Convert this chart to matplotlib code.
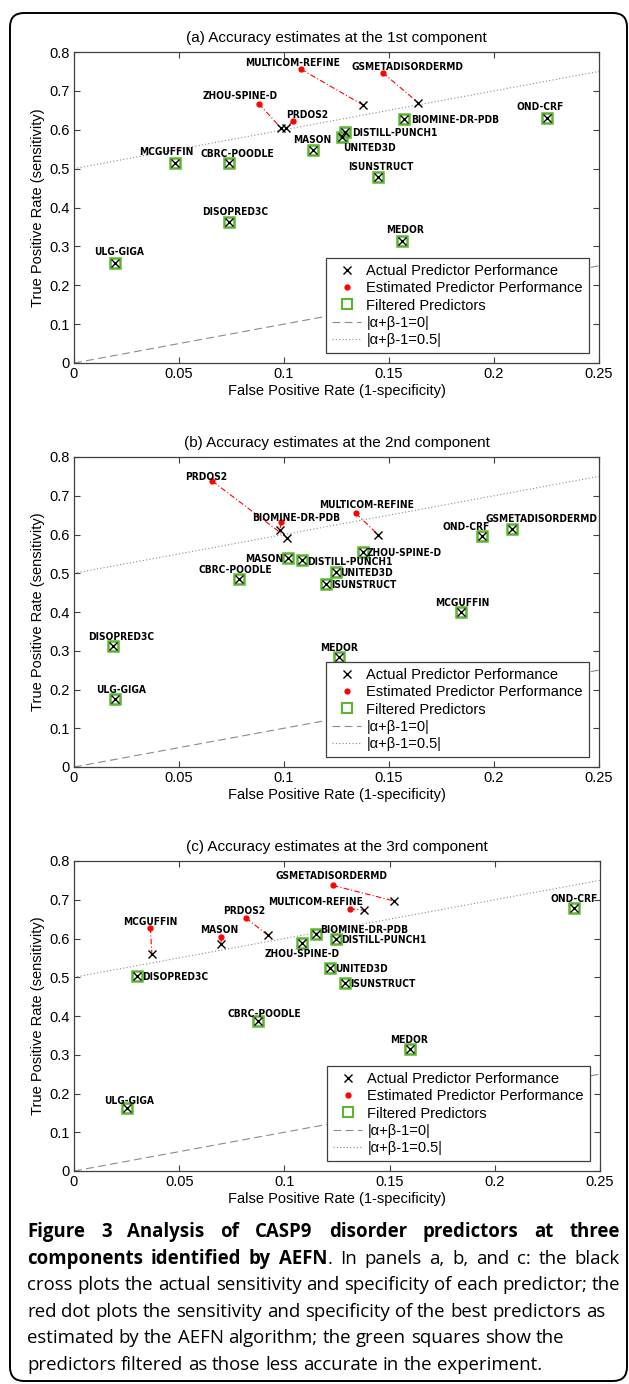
import matplotlib
matplotlib.use("Agg")
import matplotlib.pyplot as plt
import numpy as np
from matplotlib import font_manager
from matplotlib.lines import Line2D
from matplotlib.patches import FancyBboxPatch
from matplotlib.transforms import IdentityTransform

# ---------------- data ----------------
TITLES = [
    "(a) Accuracy estimates at the 1st component",
    "(b) Accuracy estimates at the 2nd component",
    "(c) Accuracy estimates at the 3rd component",
]
X_TICKS = [0, 0.05, 0.1, 0.15, 0.2, 0.25]
X_TICK_LABELS = ["0", "0.05", "0.1", "0.15", "0.2", "0.25"]
Y_TICKS = [0, 0.1, 0.2, 0.3, 0.4, 0.5, 0.6, 0.7, 0.8]
Y_TICK_LABELS = ["0", "0.1", "0.2", "0.3", "0.4", "0.5", "0.6", "0.7", "0.8"]
LEGEND_LABELS = ["Actual Predictor Performance", "Estimated Predictor Performance",
                 "Filtered Predictors", "|\u03b1+\u03b2-1=0|", "|\u03b1+\u03b2-1=0.5|"]

nan = np.nan

# panel (a)
NAMES_A = ["MULTICOM-REFINE", "GSMETADISORDERMD", "ZHOU-SPINE-D", "PRDOS2", "MASON",
           "DISTILL-PUNCH1", "UNITED3D", "BIOMINE-DR-PDB", "ISUNSTRUCT", "OND-CRF",
           "MEDOR", "MCGUFFIN", "CBRC-POODLE", "DISOPRED3C", "ULG-GIGA"]
ACT_FPR_A = [0.1375, 0.164, 0.0986, 0.101, 0.114, 0.129, 0.1276, 0.157, 0.1446, 0.225,
             0.156, 0.048, 0.074, 0.074, 0.0195]
ACT_TPR_A = [0.664, 0.669, 0.604, 0.604, 0.548, 0.593, 0.582, 0.628, 0.478, 0.629,
             0.314, 0.514, 0.514, 0.362, 0.256]
EST_FPR_A = [0.108, 0.147, 0.088, 0.1044, nan, nan, nan, nan, nan, nan, nan, nan, nan, nan, nan]
EST_TPR_A = [0.756, 0.747, 0.667, 0.623, nan, nan, nan, nan, nan, nan, nan, nan, nan, nan, nan]

# panel (b)
NAMES_B = ["PRDOS2", "BIOMINE-DR-PDB", "MULTICOM-REFINE", "MASON", "DISTILL-PUNCH1",
           "CBRC-POODLE", "DISOPRED3C", "ULG-GIGA", "ZHOU-SPINE-D", "UNITED3D",
           "ISUNSTRUCT", "MCGUFFIN", "OND-CRF", "GSMETADISORDERMD", "MEDOR"]
ACT_FPR_B = [0.1014, 0.098, 0.1447, 0.102, 0.1088, 0.0786, 0.0187, 0.0197, 0.1375, 0.1246,
             0.120, 0.1843, 0.1943, 0.2086, 0.126]
ACT_TPR_B = [0.592, 0.611, 0.600, 0.539, 0.533, 0.486, 0.311, 0.176, 0.555, 0.502,
             0.471, 0.400, 0.595, 0.614, 0.285]
EST_FPR_B = [0.0658, 0.0986, 0.1342, nan, nan, nan, nan, nan, nan, nan, nan, nan, nan, nan, nan]
EST_TPR_B = [0.738, 0.631, 0.655, nan, nan, nan, nan, nan, nan, nan, nan, nan, nan, nan, nan]

# panel (c)
NAMES_C = ["MCGUFFIN", "MASON", "PRDOS2", "GSMETADISORDERMD", "MULTICOM-REFINE",
           "DISOPRED3C", "CBRC-POODLE", "ULG-GIGA", "ZHOU-SPINE-D", "BIOMINE-DR-PDB",
           "DISTILL-PUNCH1", "UNITED3D", "ISUNSTRUCT", "OND-CRF", "MEDOR"]
ACT_FPR_C = [0.037, 0.070, 0.092, 0.152, 0.1376, 0.0298, 0.0875, 0.0252, 0.1084, 0.1148,
             0.1244, 0.1219, 0.1289, 0.2378, 0.1595]
ACT_TPR_C = [0.560, 0.586, 0.609, 0.697, 0.673, 0.504, 0.386, 0.162, 0.589, 0.612,
             0.599, 0.525, 0.486, 0.679, 0.314]
EST_FPR_C = [0.0363, 0.0698, 0.0817, 0.123, 0.131, nan, nan, nan, nan, nan, nan, nan, nan, nan, nan]
EST_TPR_C = [0.628, 0.604, 0.653, 0.737, 0.677, nan, nan, nan, nan, nan, nan, nan, nan, nan, nan]

CAPTION = [
    [("Figure 3 Analysis of CASP9 disorder predictors at three", "bold")],
    [("components identified by AEFN", "bold"), (". In panels a, b, and c: the black", "normal")],
    [("cross plots the actual sensitivity and specificity of each predictor; the", "normal")],
    [("red dot plots the sensitivity and specificity of the best predictors as", "normal")],
    [("estimated by the AEFN algorithm; the green squares show the", "normal")],
    [("predictors filtered as those less accurate in the experiment.", "normal")],
]

# ---------------- layout (pixels, from top-left) ----------------
W, H = 629, 1384
AX_BOXES = [(74, 52, 599, 363), (74, 457, 599, 767), (74, 861, 600, 1171)]

# label placement: name -> (dx px, dy px up, ha); anchored at the red dot if there is one
LABELS_A = {
    "MULTICOM-REFINE": (-8, 7, "center"), "GSMETADISORDERMD": (25, 7, "center"),
    "ZHOU-SPINE-D": (-19, 9, "center"), "PRDOS2": (14, 7, "center"),
    "MASON": (-1, 11, "center"), "DISTILL-PUNCH1": (7, 0, "left"),
    "UNITED3D": (1, -10, "left"), "BIOMINE-DR-PDB": (7, 0, "left"),
    "ISUNSTRUCT": (3, 11, "center"), "OND-CRF": (-6, 12, "center"),
    "MEDOR": (3, 12, "center"), "MCGUFFIN": (-8, 12, "center"),
    "CBRC-POODLE": (8, 10, "center"), "DISOPRED3C": (6, 11, "center"),
    "ULG-GIGA": (4, 12, "center"),
}
LABELS_B = {
    "PRDOS2": (-6, 5, "center"), "BIOMINE-DR-PDB": (15, 5, "center"),
    "MULTICOM-REFINE": (11, 9, "center"), "MASON": (-5, 0, "right"),
    "DISTILL-PUNCH1": (5, -1, "left"), "CBRC-POODLE": (-4, 10, "center"),
    "DISOPRED3C": (8, 10, "center"), "ULG-GIGA": (6, 10, "center"),
    "ZHOU-SPINE-D": (4, 0, "left"), "UNITED3D": (4, 0, "left"),
    "ISUNSTRUCT": (5, 0, "left"), "MCGUFFIN": (1, 10, "center"),
    "OND-CRF": (-16, 10, "center"), "GSMETADISORDERMD": (29, 11, "center"),
    "MEDOR": (0, 10, "center"),
}
LABELS_C = {
    "MCGUFFIN": (0, 7, "center"), "MASON": (-2, 8, "center"),
    "PRDOS2": (-2, 8, "center"), "GSMETADISORDERMD": (-1, 10, "center"),
    "MULTICOM-REFINE": (-34, 8, "center"), "DISOPRED3C": (5, 0, "left"),
    "CBRC-POODLE": (6, 8, "center"), "ULG-GIGA": (2, 8, "center"),
    "ZHOU-SPINE-D": (0, -10, "center"), "BIOMINE-DR-PDB": (5, 5, "left"),
    "DISTILL-PUNCH1": (5, 0, "left"), "UNITED3D": (5, 0, "left"),
    "ISUNSTRUCT": (5, 0, "left"), "OND-CRF": (0, 10, "center"),
    "MEDOR": (-1, 10, "center"),
}

GREEN = "#5cb531"
AXIS_GRAY = "#404040"
LINE_GRAY = "#8a8a8a"

plt.rcParams["font.family"] = ["Liberation Sans", "DejaVu Sans"]

avail = {f.name for f in font_manager.fontManager.ttflist}
if "Liberation Sans Narrow" in avail:
    LABEL_FONT = dict(family="Liberation Sans Narrow", fontweight="bold", fontsize=8.3)
else:
    LABEL_FONT = dict(family="DejaVu Sans", fontweight="bold", fontstretch="condensed", fontsize=7.3)


def draw_panel(ax, title, names, act_fpr, act_tpr, est_fpr, est_tpr, labels):
    act_fpr = np.asarray(act_fpr)
    act_tpr = np.asarray(act_tpr)
    est_fpr = np.asarray(est_fpr)
    est_tpr = np.asarray(est_tpr)
    has_est = ~np.isnan(est_fpr)

    # reference lines
    ax.plot(X_TICKS, np.asarray(X_TICKS), color=LINE_GRAY, lw=0.8, ls=(0, (7, 4)), zorder=1)
    ax.plot(X_TICKS, np.asarray(X_TICKS) + 0.5, color=LINE_GRAY, lw=0.8, ls=(0, (1, 2)), zorder=1)

    # estimated -> actual connectors
    for i in np.where(has_est)[0]:
        ax.plot([est_fpr[i], act_fpr[i]], [est_tpr[i], act_tpr[i]], color="red", lw=0.8,
                ls=(0, (5, 2, 1, 2)), zorder=2)

    filt = ~has_est
    ax.plot(act_fpr[filt], act_tpr[filt], ls="none", marker="s", ms=7, mfc="none",
            mec=GREEN, mew=1.8, zorder=3)
    ax.plot(est_fpr[has_est], est_tpr[has_est], ls="none", marker="o", ms=3.5,
            mfc="red", mec="red", zorder=4)
    ax.plot(act_fpr, act_tpr, ls="none", marker="x", ms=5.5, mew=1.0, color="black", zorder=5)

    for i, name in enumerate(names):
        dx, dy, ha = labels[name]
        if has_est[i]:
            xy = (est_fpr[i], est_tpr[i])
        else:
            xy = (act_fpr[i], act_tpr[i])
        ax.annotate(name, xy=xy, xytext=(dx, dy), textcoords="offset pixels",
                    ha=ha, va="center_baseline", zorder=6, **LABEL_FONT)

    ax.set_xlim(0, 0.25)
    ax.set_ylim(0, 0.8)
    ax.set_xticks(X_TICKS)
    ax.set_xticklabels(X_TICK_LABELS)
    ax.set_yticks(Y_TICKS)
    ax.set_yticklabels(Y_TICK_LABELS)
    ax.tick_params(direction="in", top=True, right=True, length=4, width=0.8,
                   color=AXIS_GRAY, labelsize=10.5, pad=3)
    for sp in ax.spines.values():
        sp.set_color(AXIS_GRAY)
        sp.set_linewidth(0.9)
    ax.set_title(title, fontsize=11, pad=7)
    ax.set_xlabel("False Positive Rate (1-specificity)", fontsize=10.5, labelpad=2)
    ax.set_ylabel("True Positive Rate (sensitivity)", fontsize=10.5, labelpad=3)

    handles = [
        Line2D([], [], ls="none", marker="x", ms=5.5, mew=1.0, color="black"),
        Line2D([], [], ls="none", marker="o", ms=3.5, mfc="red", mec="red"),
        Line2D([], [], ls="none", marker="s", ms=7, mfc="none", mec=GREEN, mew=1.5),
        Line2D([], [], color=LINE_GRAY, lw=0.8, ls=(0, (7, 4))),
        Line2D([], [], color=LINE_GRAY, lw=0.8, ls=(0, (1, 2))),
    ]
    leg = ax.legend(handles, LEGEND_LABELS, loc="lower right", fontsize=10.5,
                    frameon=True, fancybox=False, framealpha=1, edgecolor=AXIS_GRAY,
                    handlelength=2.0, handletextpad=0.35, labelspacing=0.22,
                    borderpad=0.4, borderaxespad=0.7)
    leg.get_frame().set_linewidth(0.9)
    leg.set_zorder(10)


fig = plt.figure(figsize=(W / 100, H / 100), dpi=100)
fig.patch.set_facecolor("white")

panels = [
    (NAMES_A, ACT_FPR_A, ACT_TPR_A, EST_FPR_A, EST_TPR_A, LABELS_A),
    (NAMES_B, ACT_FPR_B, ACT_TPR_B, EST_FPR_B, EST_TPR_B, LABELS_B),
    (NAMES_C, ACT_FPR_C, ACT_TPR_C, EST_FPR_C, EST_TPR_C, LABELS_C),
]
for (l, t, r, b), title, p in zip(AX_BOXES, TITLES, panels):
    ax = fig.add_axes([l / W, 1 - b / H, (r - l) / W, (b - t) / H])
    draw_panel(ax, title, *p)

# rounded frame around everything
frame = FancyBboxPatch((10, 3), 617, 1368, boxstyle="round,pad=0,rounding_size=14",
                       transform=IdentityTransform(), fill=False, lw=1.4, ec="black")
fig.add_artist(frame)

# ---------------- caption ----------------
renderer = fig.canvas.get_renderer()
CAP_FAMILY = ["Open Sans", "DejaVu Sans"]


def text_width(s, size, weight):
    t = fig.text(0, 0, s, fontsize=size, fontweight=weight, family=CAP_FAMILY)
    w = t.get_window_extent(renderer).width
    t.remove()
    return w


# fit the font size so that the third line spans its width in the original
probe = CAPTION[2][0][0]
cap_size = 12 * 590 / text_width(probe, 12, "normal")
space_w = text_width("a a", cap_size, "normal") - text_width("aa", cap_size, "normal")

x_left, x_right = 27, 620
base0, step = 1237, 26.6
for k, parts in enumerate(CAPTION):
    # words: lists of (piece, weight); a segment not starting with a space glues on
    words = []
    for seg, weight in parts:
        pieces = seg.split(" ")
        for j, pc in enumerate(pieces):
            if pc == "":
                continue
            if j == 0 and words and not seg.startswith(" "):
                words[-1].append((pc, weight))
            else:
                words.append([(pc, weight)])
    widths = [[text_width(pc, cap_size, wt) for pc, wt in w] for w in words]
    total = sum(sum(ws) for ws in widths)
    justify = k < 2
    gap = (x_right - x_left - total) / (len(words) - 1) if justify else space_w
    x = x_left
    y = H - (base0 + k * step)
    for w, ws in zip(words, widths):
        for (pc, wt), pw in zip(w, ws):
            fig.text(x, y, pc, fontsize=cap_size, fontweight=wt, family=CAP_FAMILY,
                     ha="left", va="baseline", transform=IdentityTransform())
            x += pw
        x += gap

fig.savefig("out.png", dpi=100)
